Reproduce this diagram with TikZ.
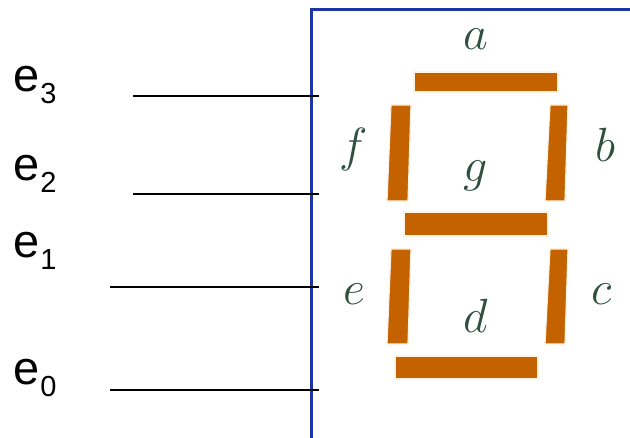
\documentclass[tikz,border=0pt]{standalone}
\usepackage{graphicx}
\usepackage{fontspec}
\setmainfont{Liberation Sans}
\definecolor{segcol}{HTML}{C46200}
\definecolor{halo}{HTML}{FFF3E2}
\definecolor{framecol}{HTML}{1E35A8}
\definecolor{lettercol}{HTML}{2F5040}
\newcommand{\inp}[1]{\fontsize{47}{50}\selectfont e\kern1pt\raisebox{-11.5pt}{\fontsize{29}{31}\selectfont #1}}
\newcommand{\seglabel}[1]{\scalebox{1.93}{\fontsize{24.88}{28}\selectfont $#1$}}
\tikzset{
  seg/.style={fill=segcol,draw=halo,line width=1.2pt},
  wire/.style={draw=black,line width=1.5pt},
  frameline/.style={draw=framecol,line width=3pt},
  inlabel/.style={inner sep=0pt,anchor=base west,text=black},
  letter/.style={inner sep=0pt,anchor=base,text=lettercol}
}
\begin{document}
\begin{tikzpicture}[x=1pt,y=-1pt]
\useasboundingbox (0,0) rectangle (630,438);
\fill[white] (0,0) rectangle (630,438);
% frame
\coordinate (fbl) at (311.5,438);
\coordinate (ftl) at (311.5,9.5);
\coordinate (ftr) at (630,9.5);
\draw[frameline] (fbl) -- (ftl) -- (ftr);
% segments
\path[seg] (414,72) rectangle (558,92);
\path[seg] (404,212) rectangle (548,236);
\path[seg] (395,356) rectangle (538,379);
\path[seg] (391,105) -- (411,105) -- (408,201) -- (387,201) -- cycle;
\path[seg] (550,105) -- (568,105) -- (565,201) -- (545,201) -- cycle;
\path[seg] (391,249) -- (411,249) -- (408,344) -- (387,344) -- cycle;
\path[seg] (550,249) -- (568,249) -- (565,344) -- (545,344) -- cycle;
% letters
\node[letter] (la) at (476,50) {\seglabel{a}};
\node[letter] (lb) at (605,162) {\seglabel{b}};
\node[letter] (lc) at (602,305) {\seglabel{c}};
\node[letter] (ld) at (476,333) {\seglabel{d}};
\node[letter] (le) at (354,305) {\seglabel{e}};
\node[letter] (lf) at (354,162) {\seglabel{f}};
\node[letter] (lg) at (476,182) {\seglabel{g}};
% inputs
\node[inlabel] (e3) at (13,92) {\inp{3}};
\node[inlabel] (e2) at (13,181) {\inp{2}};
\node[inlabel] (e1) at (13,258) {\inp{1}};
\node[inlabel] (e0) at (13,385) {\inp{0}};
% wires
\coordinate (w3a) at (133,96); \coordinate (w3b) at (318.5,96);
\coordinate (w2a) at (133,194); \coordinate (w2b) at (318.5,194);
\coordinate (w1a) at (110,287); \coordinate (w1b) at (318.5,287);
\coordinate (w0a) at (110,390); \coordinate (w0b) at (318.5,390);
\draw[wire] (w3a) -- (w3b);
\draw[wire] (w2a) -- (w2b);
\draw[wire] (w1a) -- (w1b);
\draw[wire] (w0a) -- (w0b);
\end{tikzpicture}
\end{document}
